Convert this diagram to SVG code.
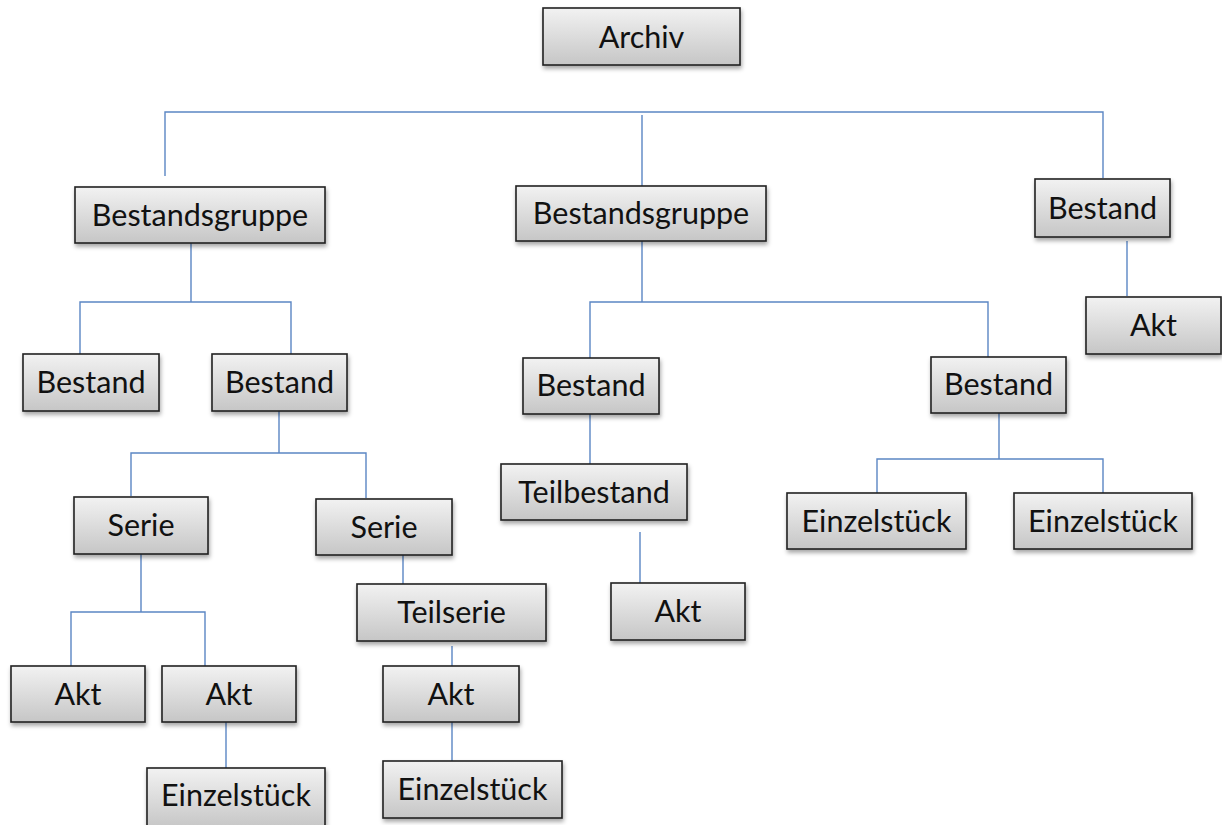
<svg xmlns="http://www.w3.org/2000/svg" width="1222" height="825" viewBox="0 0 1222 825">
<defs>
<linearGradient id="g" x1="0" y1="0" x2="0" y2="1">
<stop offset="0" stop-color="#f2f2f2"/>
<stop offset="1" stop-color="#c6c6c6"/>
</linearGradient>
<filter id="sh" x="-10%" y="-10%" width="125%" height="140%">
<feDropShadow dx="1" dy="3" stdDeviation="2" flood-color="#000" flood-opacity="0.35"/>
</filter>
</defs>
<style>
.b{fill:url(#g);stroke:#222;stroke-width:1.6;filter:url(#sh)}
.t{font-family:Lato,"Liberation Sans",sans-serif;font-size:30.5px;fill:#111;text-anchor:middle}
.c{stroke:#5b86c4;stroke-width:1.4;fill:none}
</style>
<rect width="1222" height="825" fill="#fff"/>
<g id="connectors" class="c">
<path d="M165,176V112H1103V178M642,115V186"/>
<path d="M191,243V302M80,354V302H291V354"/>
<path d="M642,241V302M590,358V302H988V357"/>
<path d="M1127,241V296"/>
<path d="M279,411V453M131,496V453H366V498"/>
<path d="M590,414V464M640,532V583"/>
<path d="M999,413V459M877,493V459H1103V493"/>
<path d="M141,554V612M71,666V612H205V666"/>
<path d="M403,555V584M452,646V666M452,722V761"/>
<path d="M226,722V768"/>
</g>
<g id="archiv"><rect class="b" x="543" y="8" width="197" height="57"/><text class="t" x="641.5" y="48">Archiv</text></g>
<g id="bg1"><rect class="b" x="75" y="187" width="250" height="56"/><text class="t" x="200" y="226">Bestandsgruppe</text></g>
<g id="bg2"><rect class="b" x="516" y="186" width="250" height="55"/><text class="t" x="641" y="224">Bestandsgruppe</text></g>
<g id="b-right"><rect class="b" x="1035" y="179" width="135" height="58"/><text class="t" x="1102.5" y="219">Bestand</text></g>
<g id="akt-right"><rect class="b" x="1086" y="297" width="135" height="57"/><text class="t" x="1153.5" y="336">Akt</text></g>
<g id="b1"><rect class="b" x="23" y="354" width="136" height="57"/><text class="t" x="91" y="393">Bestand</text></g>
<g id="b2"><rect class="b" x="212" y="354" width="135" height="57"/><text class="t" x="279.5" y="393">Bestand</text></g>
<g id="b3"><rect class="b" x="523" y="358" width="136" height="56"/><text class="t" x="591" y="396">Bestand</text></g>
<g id="b4"><rect class="b" x="931" y="357" width="135" height="56"/><text class="t" x="998.5" y="395">Bestand</text></g>
<g id="teilbestand"><rect class="b" x="501" y="464" width="186" height="56"/><text class="t" x="594" y="503">Teilbestand</text></g>
<g id="akt-mid"><rect class="b" x="611" y="583" width="134" height="57"/><text class="t" x="678" y="622">Akt</text></g>
<g id="e1"><rect class="b" x="787" y="493" width="179" height="56"/><text class="t" x="876.5" y="532">Einzelstück</text></g>
<g id="e2"><rect class="b" x="1014" y="493" width="178" height="56"/><text class="t" x="1103" y="532">Einzelstück</text></g>
<g id="serie1"><rect class="b" x="74" y="497" width="134" height="57"/><text class="t" x="141" y="536">Serie</text></g>
<g id="serie2"><rect class="b" x="316" y="499" width="136" height="56"/><text class="t" x="384" y="538">Serie</text></g>
<g id="teilserie"><rect class="b" x="357" y="584" width="189" height="57"/><text class="t" x="451.5" y="623">Teilserie</text></g>
<g id="akt1"><rect class="b" x="11" y="666" width="134" height="56"/><text class="t" x="78" y="705">Akt</text></g>
<g id="akt2"><rect class="b" x="162" y="666" width="134" height="56"/><text class="t" x="229" y="705">Akt</text></g>
<g id="akt3"><rect class="b" x="383" y="666" width="136" height="56"/><text class="t" x="451" y="705">Akt</text></g>
<g id="e3"><rect class="b" x="147" y="768" width="178" height="60"/><text class="t" x="236" y="806">Einzelstück</text></g>
<g id="e4"><rect class="b" x="383" y="761" width="179" height="57"/><text class="t" x="472.5" y="800">Einzelstück</text></g>
</svg>
